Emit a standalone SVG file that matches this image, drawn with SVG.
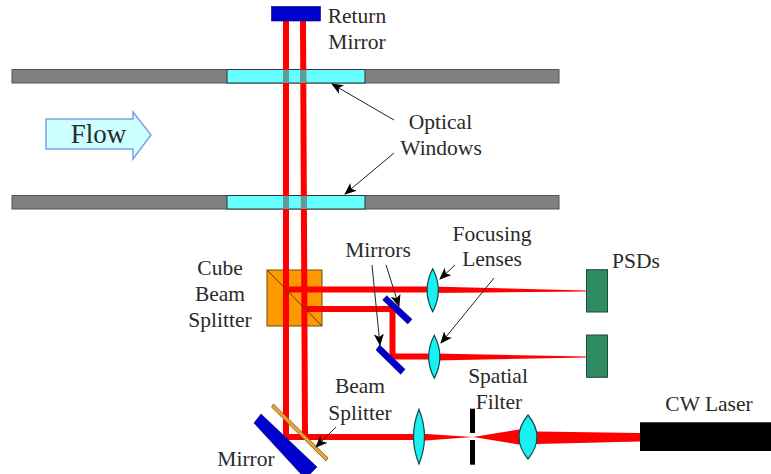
<svg xmlns="http://www.w3.org/2000/svg" width="771" height="474" viewBox="0 0 771 474">
<style>
text{font-family:"Liberation Serif","Times New Roman",serif;font-size:21.500px;fill:#2a2a2a;text-anchor:middle}
.wall{fill:#808080;stroke:#555;stroke-width:1}
.win{fill:#66ffff;stroke:#333;stroke-width:1}
.beam{stroke:#ff0000;stroke-width:6;fill:none}
.red{fill:#ff0000}
.lens{fill:#19f0f0;stroke:#0c4a50;stroke-width:1.200}
.mir{fill:#0000cc;stroke:#000066;stroke-width:.6}
.psd{fill:#2e8b62;stroke:#1d4d3a;stroke-width:1}
.ln{stroke:#222;stroke-width:1;fill:none;marker-end:url(#ah)}
.ov{fill:#5f9c9c}
</style>
<defs><marker id="ah" markerUnits="userSpaceOnUse" markerWidth="12" markerHeight="10" refX="11" refY="5" orient="auto"><path d="M0 0L12 5L0 10L3 5Z" fill="#000"/></marker></defs>
<rect width="771" height="474" fill="#fff"/>
<g id="walls">
<rect class="wall" x="12" y="69.500" width="547" height="13.500"/>
<rect class="win" x="227" y="69.500" width="138" height="13.500"/>
<rect class="wall" x="12" y="195.500" width="547" height="13.500"/>
<rect class="win" x="227" y="195.500" width="138" height="13.500"/>
</g>
<g id="cube"><rect x="267" y="270" width="55" height="56" fill="#ff9900" stroke="#6b4a10" stroke-width="1"/></g>
<g id="beams">
<path class="beam" d="M286 21V437"/>
<path class="beam" d="M303 21L305 437"/>
<path class="beam" d="M286 289.500H430"/>
<path class="beam" d="M305 309H392.500V356.500H432"/>
<path class="beam" d="M286 437H418"/>
<polygon class="red" points="430,286.500 586,290.500 586,291.500 430,293"/>
<polygon class="red" points="434,353.500 586,356.500 586,357.500 434,360.500"/>
<polygon class="red" points="419,433.500 473,437 419,441"/>
<polygon class="red" points="473,437 522,429 537,431.500 640,433 640,441.500 537,444 522,445"/>
<rect class="ov" x="283" y="70" width="6" height="13"/>
<rect class="ov" x="300" y="70" width="6" height="13"/>
<rect class="ov" x="283" y="196" width="6" height="13"/>
<rect class="ov" x="301" y="196" width="6" height="13"/>
</g>
<path d="M267 270L322 326" stroke="#5a3a10" stroke-width="1" fill="none"/>
<g id="return-mirror"><rect class="mir" x="271.500" y="6.500" width="49" height="14.500"/></g>
<g id="mirror"><polygon class="mir" points="261,414 317,467 310,474 301,474 254,423"/></g>
<g id="beam-splitter"><polygon points="273.500,404 328,458 326,461 271.500,407" fill="#f0a030" stroke="#7a5a20" stroke-width=".8"/></g>
<g id="mirror-1"><polygon class="mir" points="386.700,295.700 412,319.300 407.700,324 382.700,300"/></g>
<g id="mirror-2"><polygon class="mir" points="379.700,345 405,369.300 400.700,374.300 376,350"/></g>
<g id="lens-1"><path class="lens" d="M432.700 268.700Q444 290 432.700 311.700Q421.500 290 432.700 268.700Z"/></g>
<g id="lens-2"><path class="lens" d="M434.300 335.300Q445.500 357 434.300 378.300Q423 357 434.300 335.300Z"/></g>
<g id="lens-3"><path class="lens" d="M419 409.300Q430 437 419 464Q408 437 419 409.300Z"/></g>
<g id="lens-4"><path class="lens" d="M528 415Q546 437 528 459Q510 437 528 415Z"/></g>
<g id="spatial-filter"><rect x="470" y="408.700" width="5" height="24.300" fill="#000"/><rect x="470" y="440" width="5" height="24.700" fill="#000"/></g>
<g id="psd-1"><rect class="psd" x="586.500" y="269.700" width="21" height="42.300"/></g>
<g id="psd-2"><rect class="psd" x="586.500" y="335" width="21" height="42.300"/></g>
<g id="laser"><rect x="640" y="422.300" width="131" height="28.700" fill="#000"/></g>
<g id="flow"><polygon points="46,119 133,119 133,112 151,135 133,159 133,149 46,149" fill="#ccffff" stroke="#7f9fe8" stroke-width="1.500"/><text x="98.500" y="143" style="font-size:27px">Flow</text></g>
<g id="connectors">
<path class="ln" d="M394 120L332 84"/>
<path class="ln" d="M394 153L345 194"/>
<path class="ln" d="M372 265L380 345"/>
<path class="ln" d="M386 265L399 306"/>
<path class="ln" d="M455 265L440 279"/>
<path class="ln" d="M494 278L441 343"/>
<path class="ln" d="M336 427L316 447"/>
</g>
<g id="labels">
<text x="357" y="23">Return</text><text x="357" y="49">Mirror</text>
<text x="440.500" y="129">Optical</text><text x="441" y="155">Windows</text>
<text x="220" y="275">Cube</text><text x="220" y="301">Beam</text><text x="220" y="327">Splitter</text>
<text x="378" y="257">Mirrors</text>
<text x="492" y="241">Focusing</text><text x="492" y="266">Lenses</text>
<text x="636" y="268">PSDs</text>
<text x="360" y="393">Beam</text><text x="360" y="420">Splitter</text>
<text x="498" y="383">Spatial</text><text x="499" y="409">Filter</text>
<text x="709" y="411">CW Laser</text>
<text x="246" y="466">Mirror</text>
</g>
</svg>
